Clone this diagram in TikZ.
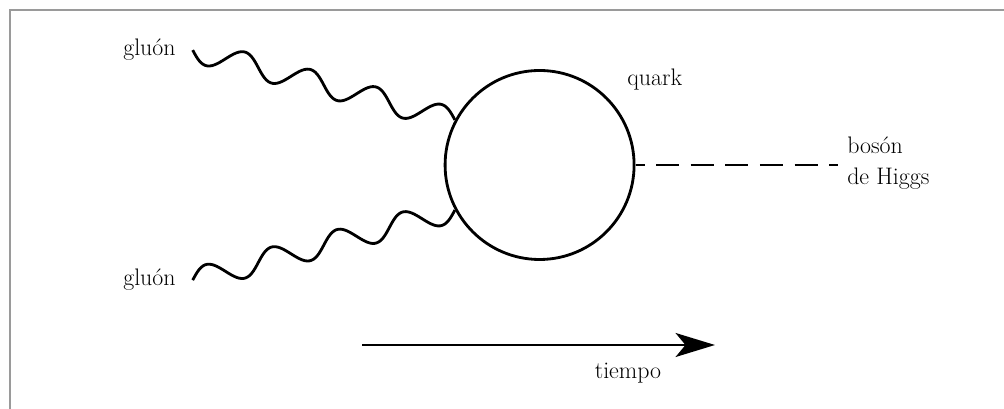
\documentclass[tikz,border=0pt]{standalone}
\usepackage{tikz}
\usetikzlibrary{arrows.meta, calc, positioning}
\definecolor{frameGrey}{HTML}{9A9A9A}
\tikzset{
  frameline/.style  = {frameGrey, line width=1.2pt},
  gluon/.style      = {line width=2pt, line join=round},
  quarkloop/.style  = {circle, draw, line width=2pt, inner sep=0pt,
                       minimum size=4.725cm},
  higgsline/.style  = {line width=2pt, dash pattern={on 0.575cm off 0.29cm},
                       dash phase=0.35cm},
  timeaxis/.style   = {-{Stealth[length=28pt, width=17pt, inset=7pt]},
                       line width=2pt},
  lbl/.style        = {font=\fontsize{17}{22}\selectfont, inner sep=0pt},
}
\begin{document}
\begin{tikzpicture}
  \useasboundingbox (0,0) rectangle (25.1,10.225);
  % grey frame, only top and left edge inside the picture
  \draw[frameline] (0.25,0) -- (0.25,9.975) -- (25.1,9.975);
  % quark loop
  \node[quarkloop] (q) at (13.49,6.1) {};
  \node[lbl, anchor=base west] (qLbl) at (15.675,8.075) {quark};
  % incoming gluons: four sine periods from label to loop
  \node[lbl, anchor=base west] (gTop) at (3.075,8.825) {gluón};
  \node[lbl, anchor=base west] (gBot) at (3.075,3.075) {gluón};
  \coordinate[right=0.42cm of gTop.east] (gTopEnd);
  \coordinate[right=0.42cm of gBot.east] (gBotEnd);
  \coordinate (vTop) at ($(q.152) - (gTopEnd)$);
  \coordinate (vBot) at ($(q.208) - (gBotEnd)$);
  \coordinate (nTop) at ($(gTopEnd)!1cm!90:(q.152) - (gTopEnd)$);
  \coordinate (nBot) at ($(gBotEnd)!1cm!90:(q.208) - (gBotEnd)$);
  \begin{scope}[x={(vTop)}, y={(nTop)}, shift={(gTopEnd)}]
    \draw[gluon] plot[domain=0:1, samples=121, smooth] (\x, {-0.29*sin(1440*\x)});
  \end{scope}
  \begin{scope}[x={(vBot)}, y={(nBot)}, shift={(gBotEnd)}]
    \draw[gluon] plot[domain=0:1, samples=121, smooth] (\x, {0.29*sin(1440*\x)});
  \end{scope}
  % outgoing Higgs
  \coordinate (hEnd) at (20.95,6.1);
  \draw[higgsline] (q.east) -- (hEnd);
  \node[lbl, anchor=base west] (hTop) at (21.175,6.375) {bosón};
  \node[lbl, anchor=base west] (hBot) at (21.175,5.6) {de Higgs};
  % time direction
  \coordinate (tStart) at (9.05,1.6);
  \coordinate (tEnd) at (17.875,1.6);
  \draw[timeaxis] (tStart) -- (tEnd);
  \node[lbl, anchor=base] (tLbl) at (15.7,0.75) {tiempo};
\end{tikzpicture}
\end{document}
